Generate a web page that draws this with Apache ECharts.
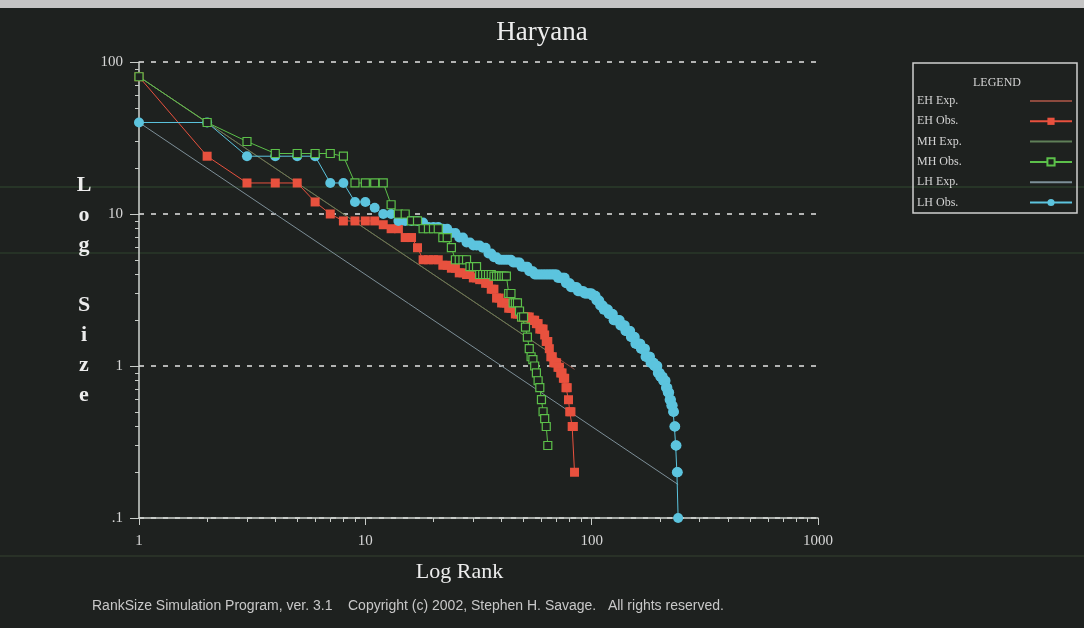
<!DOCTYPE html>
<html><head><meta charset="utf-8">
<script src="https://cdn.jsdelivr.net/npm/echarts@6/dist/echarts.min.js"></script>
<style>html,body{margin:0;padding:0;background:#1f2220;}#c{width:1084px;height:628px;}</style>
</head><body><div id="c"></div>
<script>
const chartTitle = 'Haryana';
const seriesNames = ['EH Exp.', 'EH Obs.', 'MH Exp.', 'MH Obs.', 'LH Exp.', 'LH Obs.'];

// observed sizes, by rank (rank = position in list, starting at 1)
const ehObs = [
  80, 24, 16, 16, 16, 12, 10, 9, 9, 9,
  9, 8.5, 8, 8, 7, 7, 6, 5, 5, 5,
  5, 4.6, 4.6, 4.4, 4.4, 4.1, 4.1, 4, 4, 3.8,
  3.8, 3.7, 3.7, 3.5, 3.5, 3.2, 3.2, 2.8, 2.8, 2.6,
  2.6, 2.6, 2.4, 2.4, 2.4, 2.2, 2.2, 2.2, 2.1, 2.1,
  2.1, 2.1, 2.1, 2, 2, 2, 1.9, 1.9, 1.75, 1.75,
  1.75, 1.6, 1.45, 1.45, 1.3, 1.15, 1.15, 1.05, 1.05, 1.05,
  0.98, 0.98, 0.9, 0.9, 0.83, 0.83, 0.72, 0.72, 0.6, 0.5,
  0.5, 0.4, 0.4, 0.2
];
const mhObs = [
  80, 40, 30, 25, 25, 25, 25, 24, 16, 16,
  16, 16, 11.5, 10, 10, 9, 9, 8, 8, 8,
  8, 7, 7, 6, 5, 5, 5, 5, 4.5, 4.5,
  4.5, 4, 4, 4, 4, 4, 3.9, 3.9, 3.9, 3.9,
  3.9, 3.9, 3, 3, 2.6, 2.6, 2.6, 2.3, 2.1, 2.1,
  1.8, 1.55, 1.3, 1.15, 1.1, 1, 0.9, 0.8, 0.72, 0.6,
  0.5, 0.45, 0.4, 0.3
];
const lhObs = [
  40, 40, 24, 24, 24, 24, 16, 16, 12, 12,
  11, 10, 10, 9, 9, 9, 9, 8.8, 8.2, 8.2,
  8.2, 8, 8, 7.5, 7.5, 7, 7, 6.5, 6.5, 6.2,
  6.2, 6.2, 6, 6, 5.5, 5.5, 5.2, 5.2, 5, 5,
  5, 5, 5, 5, 4.8, 4.8, 4.8, 4.8, 4.5, 4.5,
  4.5, 4.5, 4.2, 4.2, 4.2, 4, 4, 4, 4, 4,
  4, 4, 4, 4, 4, 4, 4, 4, 4, 4,
  3.8, 3.8, 3.8, 3.8, 3.8, 3.8, 3.5, 3.5, 3.5, 3.5,
  3.3, 3.3, 3.3, 3.3, 3.3, 3.3, 3.1, 3.1, 3.1, 3.1,
  3.1, 3.1, 3, 3, 3, 3, 3, 3, 3, 3,
  2.9, 2.9, 2.9, 2.9, 2.7, 2.7, 2.7, 2.7, 2.5, 2.5,
  2.5, 2.5, 2.35, 2.35, 2.35, 2.35, 2.35, 2.35, 2.2, 2.2,
  2.2, 2.2, 2.2, 2.2, 2, 2, 2, 2, 2, 2,
  2, 2, 2, 1.85, 1.85, 1.85, 1.85, 1.85, 1.85, 1.85,
  1.7, 1.7, 1.7, 1.7, 1.7, 1.7, 1.7, 1.7, 1.55, 1.55,
  1.55, 1.55, 1.55, 1.55, 1.55, 1.4, 1.4, 1.4, 1.4, 1.4,
  1.4, 1.4, 1.4, 1.4, 1.3, 1.3, 1.3, 1.3, 1.3, 1.3,
  1.3, 1.3, 1.15, 1.15, 1.15, 1.15, 1.15, 1.15, 1.15, 1.15,
  1.15, 1.05, 1.05, 1.05, 1.05, 1.05, 1.05, 1.05, 1, 1,
  1, 1, 1, 1, 1, 0.9, 0.9, 0.9, 0.9, 0.9,
  0.85, 0.85, 0.85, 0.85, 0.85, 0.85, 0.8, 0.8, 0.8, 0.8,
  0.8, 0.8, 0.72, 0.72, 0.72, 0.72, 0.67, 0.67, 0.67, 0.67,
  0.6, 0.6, 0.6, 0.6, 0.55, 0.55, 0.55, 0.55, 0.5, 0.5,
  0.5, 0.4, 0.4, 0.4, 0.3, 0.3, 0.3, 0.2, 0.2, 0.2,
  0.1
];
// expected (rank-size rule) lines: [rank, size] end points
const ehExp = [[1, 80], [84, 0.95]];
const mhExp = [[1, 80], [64, 1.25]];
const lhExp = [[1, 40], [241, 0.166]];

const yMajorTicks = [0.1, 1, 10, 100];
const yMinorTicks = [0.2, 0.3, 0.4, 0.5, 0.6, 0.7, 0.8, 0.9, 2, 3, 4, 5, 6, 7, 8, 9, 20, 30, 40, 50, 60, 70, 80, 90];
const xMajorTicks = [1, 10, 100, 1000];
const xMinorTicks = [2, 3, 4, 5, 6, 7, 8, 9, 20, 30, 40, 50, 60, 70, 80, 90, 200, 300, 400, 500, 600, 700, 800, 900];
const yLabelText = {0.1: '.1', 1: '1', 10: '10', 100: '100'};
const xLabelText = {1: '1', 10: '10', 100: '100', 1000: '1000'};

const BG = '#1e211f';
const SERIF = '"Liberation Serif", "DejaVu Serif", serif';
const byRank = arr => arr.map((v, i) => [i + 1, v]);
const expLegend = name => ({name: name, itemStyle: {opacity: 0}});

const chart = echarts.init(document.getElementById('c'), null, {renderer: 'canvas'});
chart.setOption({
  animation: false,
  backgroundColor: BG,
  title: {
    text: chartTitle, left: 'center', top: 14,
    textStyle: {fontFamily: SERIF, fontSize: 27, fontWeight: 'normal', color: '#ececec'}
  },
  grid: {left: 139, right: 266, top: 62, bottom: 110},
  legend: {
    orient: 'vertical', left: 917, top: 95, itemWidth: 42, itemHeight: 9, itemGap: 8.3,
    align: 'right', padding: 0,
    data: [expLegend(seriesNames[0]), seriesNames[1], expLegend(seriesNames[2]), seriesNames[3], expLegend(seriesNames[4]), seriesNames[5]],
    formatter: name => '{t|' + name + '}',
    textStyle: {fontFamily: SERIF, fontSize: 12, color: '#d4d4d4',
      rich: {t: {fontFamily: SERIF, fontSize: 12, color: '#d4d4d4', width: 108, align: 'left'}}}
  },
  xAxis: [{
    type: 'log', logBase: 10, min: 1, max: 1000, position: 'bottom',
    axisLine: {show: true, lineStyle: {color: '#d0d4d0', width: 1.5}},
    axisTick: {show: true, customValues: xMinorTicks, length: 4, inside: false, lineStyle: {color: '#c8ccc8'}},
    axisLabel: {show: false}, splitLine: {show: false}
  }, {
    type: 'log', logBase: 10, min: 1, max: 1000, position: 'bottom', offset: 0,
    axisLine: {show: false},
    axisTick: {show: true, customValues: xMajorTicks, length: 7, lineStyle: {color: '#c8ccc8'}},
    axisLabel: {show: true, customValues: xMajorTicks, margin: 16, fontFamily: SERIF, fontSize: 15, color: '#d6d6d6',
      formatter: v => xLabelText[v] !== undefined ? xLabelText[v] : String(v)},
    splitLine: {show: false},
    name: 'Log Rank', nameLocation: 'middle', nameGap: 43,
    nameTextStyle: {fontFamily: SERIF, fontSize: 22, color: '#ececec', padding: [0, 38, 0, 0]}
  }],
  yAxis: [{
    type: 'log', logBase: 10, min: 0.1, max: 100, position: 'left',
    axisLine: {show: true, lineStyle: {color: '#d0d4d0', width: 1.5}},
    axisTick: {show: true, customValues: yMinorTicks, length: 4, lineStyle: {color: '#c8ccc8'}},
    axisLabel: {show: false}, splitLine: {show: false}
  }, {
    type: 'log', logBase: 10, min: 0.1, max: 100, position: 'left', offset: 0,
    axisLine: {show: false},
    axisTick: {show: true, customValues: yMajorTicks, length: 9, lineStyle: {color: '#c8ccc8'}},
    axisLabel: {show: true, customValues: yMajorTicks, margin: 16, fontFamily: SERIF, fontSize: 15, color: '#d6d6d6',
      formatter: v => yLabelText[v] !== undefined ? yLabelText[v] : String(v)},
    splitLine: {show: true, lineStyle: {color: '#e4e4e4', type: [5, 7], width: 1.5}},
    name: 'L\no\ng\n\nS\ni\nz\ne', nameLocation: 'middle', nameRotate: 0, nameGap: 55,
    nameTextStyle: {fontFamily: SERIF, fontSize: 22, fontWeight: 'bold', lineHeight: 30, color: '#ececec', align: 'center', verticalAlign: 'middle'}
  }],
  graphic: [
    {type: 'rect', left: 0, top: 0, shape: {width: 1084, height: 8}, style: {fill: '#c4c4c4'}, silent: true},
    {type: 'line', shape: {x1: 0, y1: 187, x2: 1084, y2: 187}, style: {stroke: 'rgba(90,150,80,0.35)', lineWidth: 1}, silent: true, z: -1},
    {type: 'line', shape: {x1: 0, y1: 253, x2: 1084, y2: 253}, style: {stroke: 'rgba(90,150,80,0.3)', lineWidth: 1}, silent: true, z: -1},
    {type: 'line', shape: {x1: 0, y1: 556, x2: 1084, y2: 556}, style: {stroke: 'rgba(110,140,90,0.3)', lineWidth: 1}, silent: true, z: -1},
    {type: 'rect', shape: {x: 913, y: 63, width: 164, height: 150}, style: {fill: 'none', stroke: '#d0d0d0', lineWidth: 1.5}, silent: true},
    {type: 'text', style: {x: 997, y: 83, text: 'LEGEND', align: 'center', verticalAlign: 'middle', font: '12px ' + SERIF, fill: '#d4d4d4'}, silent: true},
    {type: 'text', style: {x: 92, y: 606, text: 'RankSize Simulation Program, ver. 3.1    Copyright (c) 2002, Stephen H. Savage.   All rights reserved.', verticalAlign: 'middle', font: '14px "Liberation Sans", Arial, sans-serif', fill: '#c8c8c8'}, silent: true}
  ],
  series: [
    {name: 'EH Exp.', type: 'line', data: ehExp, symbol: 'circle', showSymbol: false, lineStyle: {color: '#8c4a3e', width: 1}, itemStyle: {color: '#8c4a3e'}, z: 2},
    {name: 'EH Obs.', type: 'line', data: byRank(ehObs), symbol: 'rect', symbolSize: 9,
      itemStyle: {color: '#e8513e'}, lineStyle: {color: '#e8513e', width: 1}, z: 3},
    {name: 'MH Exp.', type: 'line', data: mhExp, symbol: 'circle', showSymbol: false, lineStyle: {color: '#5f7f58', width: 1}, itemStyle: {color: '#5f7f58'}, z: 2},
    {name: 'MH Obs.', type: 'line', data: byRank(mhObs), symbol: 'rect', symbolSize: 8,
      itemStyle: {color: BG, borderColor: '#5cc04a', borderWidth: 1.2}, lineStyle: {color: '#5cc04a', width: 1}, z: 5},
    {name: 'LH Exp.', type: 'line', data: lhExp, symbol: 'circle', showSymbol: false, lineStyle: {color: '#7d8f98', width: 1}, itemStyle: {color: '#7d8f98'}, z: 2},
    {name: 'LH Obs.', type: 'line', data: byRank(lhObs), symbol: 'circle', symbolSize: 10,
      itemStyle: {color: '#5cc4de'}, lineStyle: {color: '#5cc4de', width: 1}, z: 4}
  ]
});
</script>
</body></html>
